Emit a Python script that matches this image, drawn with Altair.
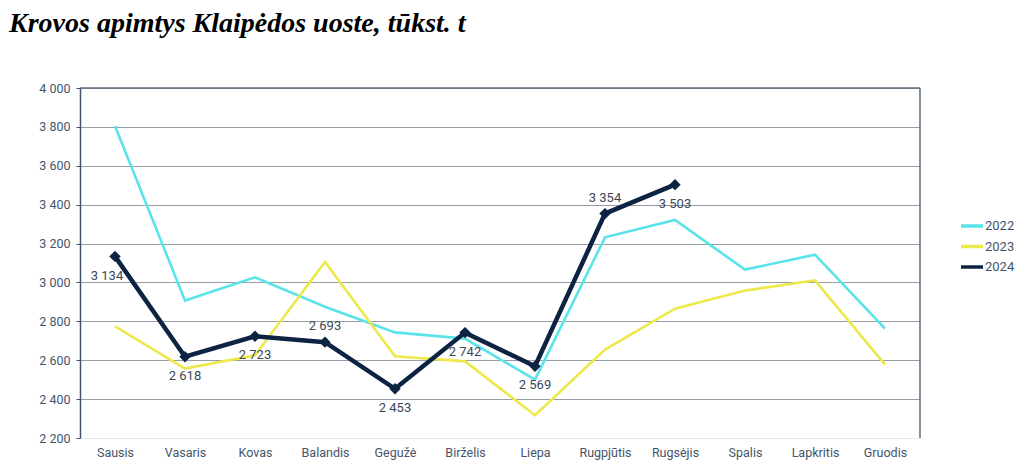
import altair as alt
import pandas as pd

MONTHS = ["Sausis", "Vasaris", "Kovas", "Balandis", "Gegužė", "Birželis",
          "Liepa", "Rugpjūtis", "Rugsėjis", "Spalis", "Lapkritis", "Gruodis"]
YEARS = ["2022", "2023", "2024"]
V2022 = [3805, 2907, 3026, 2875, 2743, 2711, 2500, 3232, 3321, 3066, 3143, 2763]
V2023 = [2774, 2557, 2625, 3105, 2620, 2594, 2317, 2655, 2865, 2958, 3011, 2577]
V2024 = [3134, 2618, 2723, 2693, 2453, 2742, 2569, 3354, 3503]
LABEL_ABOVE = ["Balandis", "Rugpjūtis"]
LABEL_LEFT = ["Sausis"]
Y_TICKS = list(range(2200, 4001, 200))
COLORS = ["#5BE3EA", "#EDE94C", "#0C2442"]

rows = []
for year, vals in zip(YEARS, [V2022, V2023, V2024]):
    for m, v in zip(MONTHS, vals):
        pos = "above" if m in LABEL_ABOVE else ("left" if m in LABEL_LEFT else "below")
        rows.append({"month": m, "year": year, "value": v, "pos": pos})
df = pd.DataFrame(rows)

AX = "#44546A"
FONT = "Roboto"

x_enc = alt.X("month:N", sort=MONTHS, title=None,
              scale=alt.Scale(type="point", padding=0.5),
              axis=alt.Axis(labelAngle=0, ticks=False, domainColor="#E3E9EE",
                            labelPadding=8, labelFontSize=12.5, labelColor=AX,
                            labelFont=FONT, grid=False))
y_enc = alt.Y("value:Q", title=None,
              scale=alt.Scale(domain=[2200, 4000], nice=False, zero=False),
              axis=alt.Axis(values=Y_TICKS, grid=True, gridDash=[1, 1],
                            gridColor="#2E3A4A", gridWidth=1, labelOverlap=False,
                            domainColor=AX, domainWidth=1.5, tickColor=AX,
                            tickSize=4, labelPadding=6, labelFontSize=12.5,
                            labelColor=AX, labelFont=FONT,
                            labelExpr="replace(format(datum.value, ','), ',', ' ')"))

color_enc = alt.Color("year:N", scale=alt.Scale(domain=YEARS, range=COLORS),
                      legend=alt.Legend(title=None, orient="none", legendX=879,
                                        legendY=125, symbolType="stroke",
                                        symbolSize=484, symbolStrokeWidth=3.5,
                                        labelFontSize=13, labelColor=AX,
                                        labelFont=FONT, rowPadding=0.5,
                                        labelOffset=0, padding=0))

base = alt.Chart(df)

lines_old = base.transform_filter("datum.year != '2024'").mark_line(strokeWidth=2.6).encode(
    x=x_enc, y=y_enc, color=color_enc)
line_new = base.transform_filter("datum.year == '2024'").mark_line(strokeWidth=4.5).encode(
    x=x_enc, y=y_enc, color=color_enc)

pts = base.transform_filter("datum.year == '2024'").mark_point(
    shape="diamond", filled=True, size=130, color=COLORS[2], opacity=1
).encode(x=x_enc, y=y_enc)

lab_common = dict(fontSize=13, font=FONT, color="#3A4757")


def labels(pos, **kw):
    return base.transform_filter(
        f"datum.year == '2024' && datum.pos == '{pos}'"
    ).transform_calculate(
        lab="replace(format(datum.value, ','), ',', ' ')"
    ).mark_text(**kw, **lab_common).encode(x=x_enc, y=y_enc, text="lab:N")


labels_below = labels("below", dy=19)
labels_above = labels("above", dy=-16)
labels_left = labels("left", dy=20, dx=-8)

frame = alt.Data(values=[{"f": 1}])
top_rule = alt.Chart(frame).mark_rule(color="#5B6B7B", strokeWidth=1.5).encode(
    x=alt.value(0), x2=alt.value(840), y=alt.value(0))
right_rule = alt.Chart(frame).mark_rule(color="#5B6B7B", strokeWidth=1.5).encode(
    x=alt.value(840), y=alt.value(0), y2=alt.value(350))

chart = alt.layer(lines_old, line_new, pts, labels_below, labels_above, labels_left,
                  top_rule, right_rule).properties(
    width=840, height=350,
    title=alt.TitleParams("Krovos apimtys Klaipėdos uoste, tūkst. t", anchor="start",
                          frame="group", dx=-71, offset=22, font="Liberation Serif",
                          fontSize=28, fontStyle="italic", fontWeight="bold",
                          color="#000000", baseline="alphabetic"),
    padding={"left": 72, "top": 80, "right": 96, "bottom": 24},
    autosize=alt.AutoSizeParams(type="none"),
).configure_view(stroke=None)

chart.save("out.html", embed_options={"renderer": "svg", "actions": False})
